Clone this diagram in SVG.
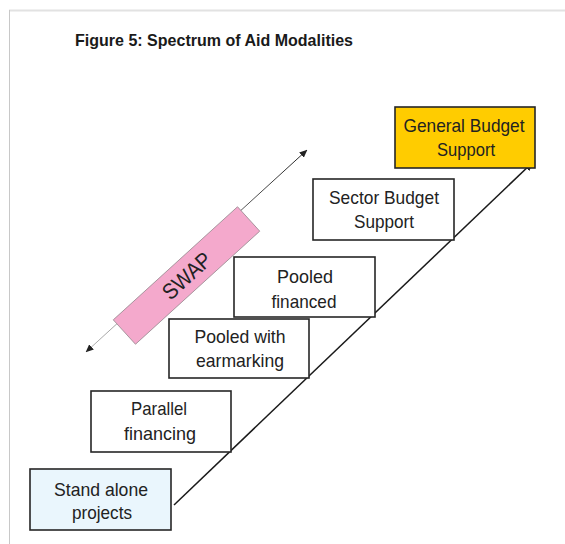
<svg xmlns="http://www.w3.org/2000/svg" width="565" height="544" viewBox="0 0 565 544">
  <defs>
    <style>
      .box { stroke: #262626; stroke-width: 1.6; }
      .plain { fill: #ffffff; }
      .lbl { font-family: "Liberation Sans", Arial, sans-serif; font-size: 19px; fill: #222222; text-anchor: middle; }
      .title { font-family: "Liberation Sans", Arial, sans-serif; font-size: 17px; font-weight: bold; fill: #1a1a1a; }
    </style>
    <marker id="arrowMain" markerWidth="10" markerHeight="8" refX="9" refY="4" orient="auto" markerUnits="userSpaceOnUse">
      <path d="M0,0 L10,4 L0,8 Z" fill="#1a1a1a"/>
    </marker>
    <marker id="arrowEnd" markerWidth="8" markerHeight="7" refX="7.5" refY="3.5" orient="auto" markerUnits="userSpaceOnUse">
      <path d="M0,0 L8,3.5 L0,7 Z" fill="#222"/>
    </marker>
    <marker id="arrowStart" markerWidth="8" markerHeight="7" refX="0.5" refY="3.5" orient="auto" markerUnits="userSpaceOnUse">
      <path d="M8,0 L0,3.5 L8,7 Z" fill="#222"/>
    </marker>
    <linearGradient id="swapGrad" gradientUnits="userSpaceOnUse" x1="85" y1="353" x2="308" y2="149">
      <stop offset="0" stop-color="#b0b0b0"/>
      <stop offset="0.45" stop-color="#888"/>
      <stop offset="1" stop-color="#222"/>
    </linearGradient>
  </defs>

  <rect x="0" y="0" width="565" height="544" fill="#ffffff"/>
  <line x1="9" y1="10.5" x2="565" y2="10.5" stroke="#e2e2e2" stroke-width="2"/>
  <line x1="9.5" y1="10" x2="9.5" y2="544" stroke="#c8c8c8" stroke-width="1"/>

  <text class="title" x="75" y="46" textLength="278" lengthAdjust="spacingAndGlyphs">Figure 5: Spectrum of Aid Modalities</text>

  <g id="connectors">
    <line x1="86" y1="352" x2="307" y2="150" stroke="url(#swapGrad)" stroke-width="1" marker-start="url(#arrowStart)" marker-end="url(#arrowEnd)"/>
    <line x1="174" y1="505" x2="533" y2="162" stroke="#1a1a1a" stroke-width="1.5" marker-end="url(#arrowMain)"/>
  </g>

  <g id="swap" transform="translate(186.5,275.5) rotate(-42.3)">
    <rect x="-84" y="-16.5" width="168" height="33" fill="#f4a9cc" stroke="#9a8a92" stroke-width="0.8"/>
    <text class="lbl" x="0" y="8" style="font-size:22px" fill="#2a2a2a" textLength="58" lengthAdjust="spacingAndGlyphs">SWAP</text>
  </g>

  <g id="stand-alone">
    <rect class="box" x="30" y="469" width="141" height="61" fill="#eaf6fd"/>
    <text class="lbl" x="101" y="496" textLength="94" lengthAdjust="spacingAndGlyphs">Stand alone</text>
    <text class="lbl" x="102" y="519" textLength="60" lengthAdjust="spacingAndGlyphs">projects</text>
  </g>

  <g id="parallel">
    <rect class="box plain" x="91" y="391" width="140" height="61"/>
    <text class="lbl" x="159" y="415" textLength="56" lengthAdjust="spacingAndGlyphs">Parallel</text>
    <text class="lbl" x="160" y="440" textLength="72" lengthAdjust="spacingAndGlyphs">financing</text>
  </g>

  <g id="pooled-earmarking">
    <rect class="box plain" x="169" y="319" width="140" height="59"/>
    <text class="lbl" x="240" y="343" textLength="91" lengthAdjust="spacingAndGlyphs">Pooled with</text>
    <text class="lbl" x="240" y="367" textLength="88" lengthAdjust="spacingAndGlyphs">earmarking</text>
  </g>

  <g id="pooled-financed">
    <rect class="box plain" x="234" y="257" width="141" height="60"/>
    <text class="lbl" x="305" y="283" textLength="56" lengthAdjust="spacingAndGlyphs">Pooled</text>
    <text class="lbl" x="304" y="308" textLength="65" lengthAdjust="spacingAndGlyphs">financed</text>
  </g>

  <g id="sector-budget">
    <rect class="box plain" x="313" y="179" width="141" height="61"/>
    <text class="lbl" x="384" y="204" textLength="110" lengthAdjust="spacingAndGlyphs">Sector Budget</text>
    <text class="lbl" x="384" y="228" textLength="60" lengthAdjust="spacingAndGlyphs">Support</text>
  </g>

  <g id="general-budget">
    <rect class="box" x="395" y="107" width="140" height="61" fill="#ffcc00"/>
    <text class="lbl" x="464" y="132" textLength="121" lengthAdjust="spacingAndGlyphs">General Budget</text>
    <text class="lbl" x="466" y="156" textLength="58" lengthAdjust="spacingAndGlyphs">Support</text>
  </g>
</svg>
